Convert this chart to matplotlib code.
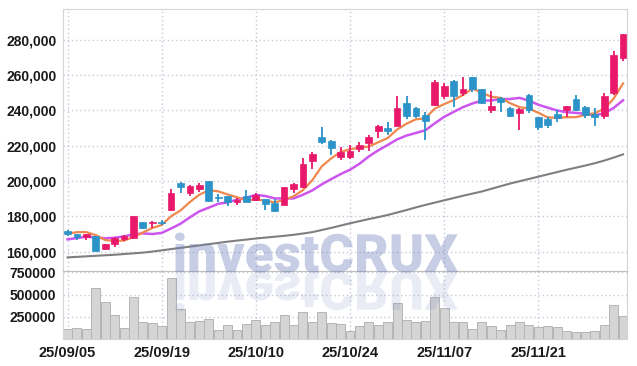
import numpy as np
import pandas as pd
import matplotlib
matplotlib.use('Agg')
import matplotlib.pyplot as plt
from matplotlib.textpath import TextPath
from matplotlib.font_manager import FontProperties
from matplotlib.patches import PathPatch
from matplotlib.transforms import Affine2D, IdentityTransform
from matplotlib.ticker import FuncFormatter

# 거래일 (25/09/05 ~ 25/12/04)
dates = ['25/09/05', '25/09/08', '25/09/09', '25/09/10', '25/09/11', '25/09/12',
         '25/09/15', '25/09/16', '25/09/17', '25/09/18', '25/09/19', '25/09/22',
         '25/09/23', '25/09/24', '25/09/25', '25/09/26', '25/09/29', '25/09/30',
         '25/10/01', '25/10/02', '25/10/10', '25/10/13', '25/10/14', '25/10/15',
         '25/10/16', '25/10/17', '25/10/20', '25/10/21', '25/10/22', '25/10/23',
         '25/10/24', '25/10/27', '25/10/28', '25/10/29', '25/10/30', '25/10/31',
         '25/11/03', '25/11/04', '25/11/05', '25/11/06', '25/11/07', '25/11/10',
         '25/11/11', '25/11/12', '25/11/13', '25/11/14', '25/11/17', '25/11/18',
         '25/11/19', '25/11/20', '25/11/21', '25/11/24', '25/11/25', '25/11/26',
         '25/11/27', '25/11/28', '25/12/01', '25/12/02', '25/12/03', '25/12/04']

opens = [171600, 169900, 168300, 168800, 161300, 164300, 167300, 167800, 176700, 176300,
         177000, 183500, 198900, 193300, 195200, 199900, 190700, 191400, 187900, 191400,
         189200, 189500, 187600, 186500, 195600, 196400, 211400, 225000, 222500, 213300,
         213700, 217900, 221600, 228400, 229900, 231200, 243900, 241000, 237300, 242900,
         248200, 256500, 249900, 258600, 251800, 240100, 247000, 241000, 238600, 248700,
         236000, 235000, 237600, 240100, 246100, 241600, 237800, 236900, 249600, 269700]
highs = [172200, 170200, 170100, 169000, 164300, 168300, 169300, 180300, 177000, 177300,
         177800, 195200, 199500, 197500, 198600, 200200, 192400, 191600, 190100, 194800,
         193100, 189800, 189700, 196800, 199000, 212700, 216500, 230300, 223000, 219300,
         220300, 222200, 225800, 231500, 233200, 248200, 248000, 242000, 239100, 257000,
         255600, 257100, 259000, 258900, 252100, 251000, 247500, 241600, 241000, 249200,
         236300, 236000, 240100, 242600, 248600, 242300, 241100, 249500, 273500, 283300]
lows = [168800, 166500, 166700, 159500, 160800, 162700, 166100, 167300, 172700, 173200,
        175000, 183000, 193300, 191400, 193500, 187900, 188200, 185900, 186100, 188000,
        188600, 183500, 182500, 186200, 193000, 196000, 206900, 220700, 214600, 212000,
        212500, 216200, 217000, 224100, 226000, 230800, 234900, 235700, 223100, 242500,
        246300, 242000, 248200, 250100, 243300, 238600, 238800, 236000, 228800, 238700,
        228800, 229800, 233500, 236000, 239600, 235500, 231100, 235000, 248600, 268000]
closes = [170100, 168000, 169800, 160500, 164100, 167800, 168800, 180100, 173100, 177000,
          176300, 193300, 196700, 197000, 197600, 188800, 190400, 187900, 189100, 188200,
          192000, 186900, 183000, 196300, 198200, 209500, 215200, 222000, 218800, 216500,
          217000, 220300, 224600, 231000, 228400, 241000, 236900, 236900, 233900, 255900,
          253700, 248000, 251800, 251800, 244300, 242300, 244800, 236900, 240500, 240100,
          230600, 231500, 235800, 242300, 240100, 237300, 236300, 248000, 271200, 283100]
volumes = [118000, 126000, 115000, 572000, 418000, 272000, 129000, 471000, 197000, 182000,
           152000, 685000, 343000, 197000, 208000, 220000, 107000, 160000, 96000, 171000,
           216000, 160000, 186000, 272000, 160000, 306000, 186000, 306000, 178000, 170000,
           92000, 144000, 186000, 160000, 186000, 411000, 216000, 186000, 205000, 475000,
           351000, 197000, 186000, 118000, 197000, 148000, 96000, 160000, 197000, 160000,
           137000, 148000, 137000, 92000, 81000, 81000, 92000, 160000, 384000, 261000]

# 이동평균: 앞부분은 그림에서 읽은 값 (이전 데이터가 없음)
ma5_head = [170100, 171000, 171000, 169300]
ma10_head = [166900, 167650, 168400, 168000, 167500, 167800, 168600, 169700, 170300]
ma60 = [156700, 157000, 157300, 157600, 157900, 158200, 158600, 159000, 159400, 160000,
        160700, 161400, 162100, 162800, 163500, 164200, 164900, 165600, 166200, 166800,
        167400, 167900, 168400, 168900, 169500, 170200, 171000, 172200, 173400, 174700,
        176000, 177200, 178400, 179500, 180700, 182100, 183500, 185000, 186400, 187700,
        189000, 190300, 191600, 192800, 194000, 195500, 197000, 198500, 199800, 201100,
        202400, 203700, 205000, 206300, 207500, 208700, 210000, 211500, 213200, 215000]

RED = '#e8196a'
BLUE = '#2b93c8'
GRID = '#c5c9d8'
SPINE = '#d4d4d8'
TXT = '#1a1a1a'
plt.rcParams['font.family'] = ['Liberation Sans', 'DejaVu Sans']
plt.rcParams['font.weight'] = 'bold'

df = pd.DataFrame({'open': opens, 'high': highs, 'low': lows, 'close': closes, 'volume': volumes})
ma5 = df['close'].rolling(5).mean().to_numpy()
ma5[:4] = ma5_head
ma10 = df['close'].rolling(10).mean().to_numpy()
ma10[:9] = ma10_head

x = np.arange(len(df))
fig = plt.figure(figsize=(6.37, 3.66), dpi=100)
ax = fig.add_axes([63.3 / 637, 95 / 366, 564 / 637, 262 / 366])
axv = fig.add_axes([63.3 / 637, 27 / 366, 564 / 637, 68 / 366], sharex=ax)

# 가격 차트
up = df['close'] >= df['open']
colors = np.where(up, RED, BLUE)
ax.vlines(x, df['low'], df['high'], color=colors, lw=1.3, zorder=3)
body = np.maximum((df['close'] - df['open']).abs(), 450)
ax.bar(x, body, bottom=np.minimum(df['open'], df['close']), width=0.72,
       color=colors, edgecolor=colors, lw=0.5, zorder=4)
ax.plot(x, ma60, color='#7f7f7f', lw=1.5, zorder=2)
ax.plot(x, ma10, color='#cc55ee', lw=1.8, zorder=2)
ax.plot(x, ma5, color='#f0884e', lw=1.6, zorder=2)

ax.set_xlim(-0.45, 59.45)
ax.set_ylim(149000, 297300)
ax.set_yticks(range(160000, 280001, 20000))
ax.yaxis.set_major_formatter(FuncFormatter(lambda v, p: f'{v:,.0f}'))

# 거래량 차트
axv.bar(x, df['volume'], width=0.95, color='#d5d5d5', edgecolor='#b5b5b5', lw=0.7, zorder=2)
axv.set_ylim(0, 766000)
axv.set_yticks([250000, 500000, 750000])
axv.yaxis.set_major_formatter(FuncFormatter(lambda v, p: f'{v:.0f}'))
axv.set_xticks(x[::10])
axv.set_xticklabels(dates[::10])

for a in (ax, axv):
    a.grid(True, color=GRID, ls=(0, (1, 2)), lw=1)
    a.set_axisbelow(True)
    a.tick_params(length=0, labelsize=10, colors=TXT, pad=5)
    for s in a.spines.values():
        s.set_color(SPINE)
ax.tick_params(labelbottom=False)
axv.tick_params(axis='x', pad=5, labelsize=10.5)
axv.spines['top'].set_color('#c0c0c0')

# 워터마크
fp = FontProperties(family=['Roboto', 'DejaVu Sans'], weight=900)
tp = TextPath((0, 0), 'investCRUX', size=100, prop=fp)
bb = tp.get_extents()
sx = 283 / bb.width
sy = 40 / bb.height
base = 366 - 272
wm = Affine2D().translate(-bb.x0, 0).scale(sx, sy).translate(175, base).transform_path(tp)
wm_r = Affine2D().translate(-bb.x0, 0).scale(sx, -sy).translate(175, base).transform_path(tp)
fig.add_artist(PathPatch(wm, transform=IdentityTransform(), facecolor='#7382bc',
                         edgecolor='none', alpha=0.4, zorder=5))
fig.add_artist(PathPatch(wm_r, transform=IdentityTransform(), facecolor='#7382bc',
                         edgecolor='none', alpha=0.15, zorder=5))

plt.savefig('out.png', dpi=100)
